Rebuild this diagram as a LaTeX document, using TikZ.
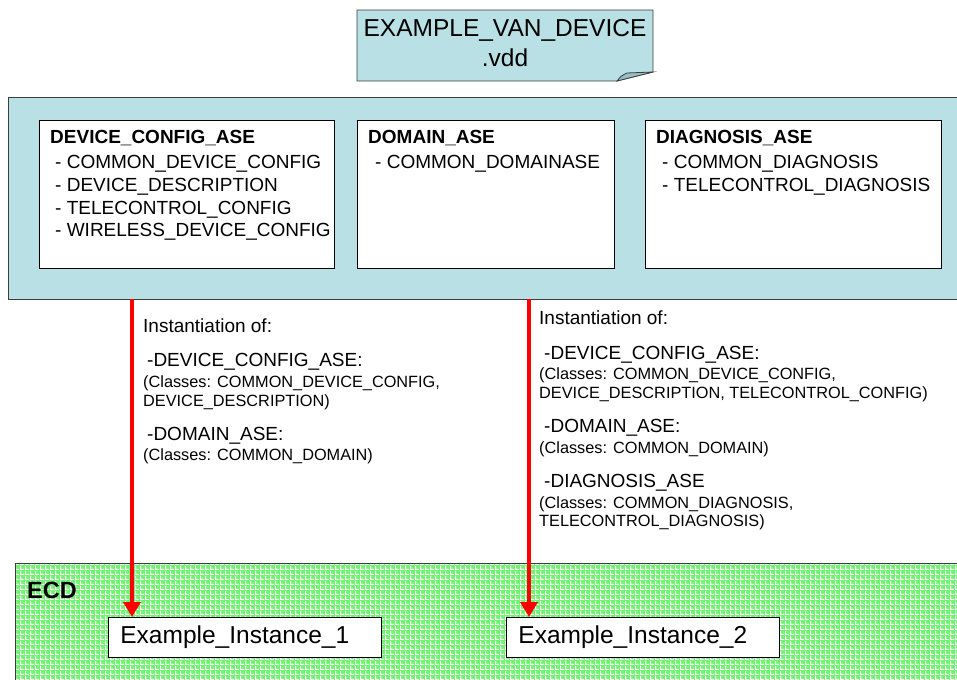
\documentclass[tikz,border=0pt]{standalone}
\usepackage{fontspec}
\setmainfont{Liberation Sans}
\usetikzlibrary{arrows.meta,patterns}
\definecolor{vddblue}{RGB}{185,224,228}
\definecolor{folddark}{RGB}{150,190,196}
\definecolor{edgegray}{RGB}{60,60,60}
\definecolor{ecdgreen}{RGB}{110,244,110}
\newcommand\bodysize{\fontsize{19}{23}\selectfont}
\newcommand\notesize{\fontsize{16.3}{19}\selectfont}
\newcommand\titlesize{\fontsize{24.5}{30}\selectfont}
% white plaid lines laid over the green ECD area
\pgfdeclarepatternformonly{plaid}{\pgfqpoint{0pt}{0pt}}{\pgfqpoint{5pt}{5pt}}{\pgfqpoint{5pt}{5pt}}{%
  \pgfpathrectangle{\pgfqpoint{0pt}{0pt}}{\pgfqpoint{5pt}{1.2pt}}%
  \pgfpathrectangle{\pgfqpoint{0pt}{0pt}}{\pgfqpoint{1.2pt}{5pt}}%
  \pgfusepath{fill}}
\begin{document}
\begin{tikzpicture}[x=1pt,y=-1pt,
  panel/.style={draw=black,fill=white,line width=0.8pt,anchor=north west,
    inner sep=0pt,minimum height=148pt},
  head/.style={anchor=base west,inner sep=0pt,font=\bodysize\bfseries},
  item/.style={anchor=base west,inner sep=0pt,font=\bodysize},
  big/.style={anchor=base west,inner sep=0pt,font=\bodysize},
  small/.style={anchor=base west,inner sep=0pt,font=\notesize},
  inst/.style={draw=black,fill=white,line width=0.8pt,anchor=north west,
    minimum height=40pt,inner xsep=12pt,inner ysep=0pt,text width=249pt,
    align=left,font=\titlesize},
  flow/.style={draw=red,line width=4pt,-{Triangle[width=17pt,length=15pt]}}]
\clip (0,0) rectangle (957,679);

% file symbol with folded corner
\draw[fill=vddblue,draw=edgegray,line width=0.8pt]
  (357,10) -- (653,10) -- (653,72) -- (617,81) -- (357,81) -- cycle;
\draw[fill=folddark,draw=edgegray,line width=0.8pt]
  (617,81) .. controls (621,76) .. (627,73) -- (653,72) -- cycle;
\node[anchor=base,inner sep=0pt,font=\titlesize] (vddname) at (505,37) {EXAMPLE\_VAN\_DEVICE};
\node[anchor=base,inner sep=0pt,font=\titlesize] (vddext) at (505,67) {.vdd};

% device description container
\node[draw=edgegray,fill=vddblue,line width=0.8pt,anchor=north west,
  minimum width=980pt,minimum height=202pt,inner sep=0pt] (vddbox) at (8,97) {};

\node[panel,minimum width=295pt] (dcbox) at (39,120) {};
\node[head] (dch) at (50,144) {DEVICE\_CONFIG\_ASE};
\node[item] (dc1) at (55,168) {- COMMON\_DEVICE\_CONFIG};
\node[item] (dc2) at (55,191) {- DEVICE\_DESCRIPTION};
\node[item] (dc3) at (55,214) {- TELECONTROL\_CONFIG};
\node[item] (dc4) at (55,236) {- WIRELESS\_DEVICE\_CONFIG};

\node[panel,minimum width=257pt] (dombox) at (357,120) {};
\node[head] (domh) at (368,144) {DOMAIN\_ASE};
\node[item] (dom1) at (375,168) {- COMMON\_DOMAINASE};

\node[panel,minimum width=296pt] (diagbox) at (645,120) {};
\node[head] (diagh) at (656,144) {DIAGNOSIS\_ASE};
\node[item] (diag1) at (662,168) {- COMMON\_DIAGNOSIS};
\node[item] (diag2) at (662,191) {- TELECONTROL\_DIAGNOSIS};

% ECD area with textured fill
\node[fill=ecdgreen,anchor=north west,minimum width=980pt,minimum height=140pt,
  inner sep=0pt] (ecd) at (15,563) {};
\fill[pattern=plaid,pattern color=white] (ecd.north west) rectangle (ecd.south east);
\draw[edgegray,line width=0.8pt] (ecd.north east) -- (ecd.north west) -- (ecd.south west);
\node[anchor=base west,inner sep=0pt,font=\fontsize{23.5}{28}\selectfont\bfseries] (ecdlabel) at (27,598) {ECD};

\node[inst] (inst1) at (108,617) {Example\_Instance\_1};
\node[inst] (inst2) at (506,617) {Example\_Instance\_2};

% instantiation arrows
\coordinate (s1) at (132,299);
\coordinate (s2) at (529,299);
\draw[flow] (s1) -- (s1 |- inst1.north);
\draw[flow] (s2) -- (s2 |- inst2.north);

% notes beside the first arrow
\node[big] (na0) at (143,332) {Instantiation of:};
\node[big] (na1) at (147,366) {-DEVICE\_CONFIG\_ASE:};
\node[small] (na2) at (143,387) {(Classes: COMMON\_DEVICE\_CONFIG,};
\node[small] (na3) at (143,406) {DEVICE\_DESCRIPTION)};
\node[big] (na4) at (147,440) {-DOMAIN\_ASE:};
\node[small] (na5) at (143,460) {(Classes: COMMON\_DOMAIN)};

% notes beside the second arrow
\node[big] (nb0) at (539,324) {Instantiation of:};
\node[big] (nb1) at (544,359) {-DEVICE\_CONFIG\_ASE:};
\node[small] (nb2) at (539,379) {(Classes: COMMON\_DEVICE\_CONFIG,};
\node[small] (nb3) at (539,398) {DEVICE\_DESCRIPTION, TELECONTROL\_CONFIG)};
\node[big] (nb4) at (544,432) {-DOMAIN\_ASE:};
\node[small] (nb5) at (539,453) {(Classes: COMMON\_DOMAIN)};
\node[big] (nb6) at (544,487) {-DIAGNOSIS\_ASE};
\node[small] (nb7) at (539,508) {(Classes: COMMON\_DIAGNOSIS,};
\node[small] (nb8) at (539,526) {TELECONTROL\_DIAGNOSIS)};
\end{tikzpicture}
\end{document}
